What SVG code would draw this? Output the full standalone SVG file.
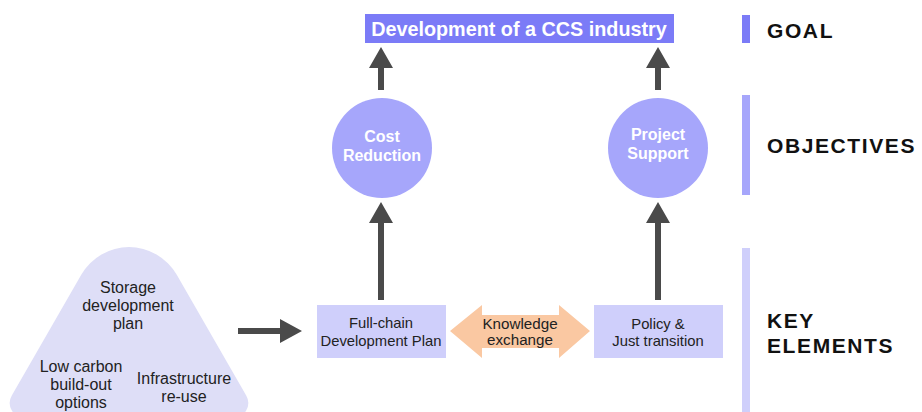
<svg xmlns="http://www.w3.org/2000/svg" width="922" height="412" viewBox="0 0 922 412">
<style>
text{font-family:"Liberation Sans",Arial,sans-serif;text-anchor:middle}
.w{fill:#ffffff;font-weight:bold;font-size:16px}
.n{fill:#222222;font-size:14.8px}
.t{fill:#222222;font-size:16px}
.h{fill:#111111;font-weight:bold;font-size:21px;text-anchor:start;letter-spacing:1.6px}
.arr{fill:#4a4a4a}
</style>
<rect width="922" height="412" fill="#ffffff"/>
<g id="goal">
<rect x="365" y="14" width="309" height="29" fill="#7b7bf7"/>
<text x="519" y="35.5" class="w" style="font-size:19.8px">Development of a CCS industry</text>
</g>
<g id="cost-reduction">
<circle cx="382" cy="148" r="50" fill="#a6a6fb"/>
<text x="382" y="142" class="w">Cost</text>
<text x="382" y="161" class="w">Reduction</text>
</g>
<g id="project-support">
<circle cx="658" cy="148" r="50" fill="#a6a6fb"/>
<text x="658" y="140" class="w">Project</text>
<text x="658" y="159" class="w">Support</text>
</g>
<g id="full-chain">
<rect x="317" y="305" width="129" height="53" fill="#cfcffb"/>
<text x="381" y="328" class="n">Full-chain</text>
<text x="381" y="346" class="n">Development Plan</text>
</g>
<g id="policy">
<rect x="594" y="305" width="129" height="53" fill="#cfcffb"/>
<text x="658" y="329" class="n">Policy &amp;</text>
<text x="658" y="346" class="n">Just transition</text>
</g>
<g id="knowledge-exchange">
<polygon points="450,331 482,305 482,315 559,315 559,305 590,331 559,358 559,348 482,348 482,358" fill="#fac8a2"/>
<text x="520" y="329" class="n" style="font-size:15.2px">Knowledge</text>
<text x="520" y="345" class="n" style="font-size:15.2px">exchange</text>
</g>
<g id="triangle">
<path d="M11.8,395.5 L81.4,274.5 A55,55 0 0 1 176.6,274.5 L246.2,395.5 A15,15 0 0 1 233.2,418 L24.8,418 A15,15 0 0 1 11.8,395.5 Z" fill="#dedef7"/>
<text x="128" y="293" class="t">Storage</text>
<text x="128" y="311" class="t">development</text>
<text x="128" y="329" class="t">plan</text>
<text x="81" y="372" class="t">Low carbon</text>
<text x="81" y="390" class="t">build-out</text>
<text x="81" y="408" class="t">options</text>
<text x="184" y="384" class="t">Infrastructure</text>
<text x="184" y="402" class="t">re-use</text>
</g>
<g id="connectors">
<polygon class="arr" points="378,90 378,68 369,68 381,47 393,68 384,68 384,90"/>
<polygon class="arr" points="655,90 655,68 646,68 658,47 670,68 661,68 661,90"/>
<polygon class="arr" points="378,300 378,223 369,223 381,202 393,223 384,223 384,300"/>
<polygon class="arr" points="655,300 655,223 646,223 658,202 670,223 661,223 661,300"/>
<polygon class="arr" points="238,328 280,328 280,319 302,331 280,343 280,334 238,334"/>
</g>
<g id="levels">
<rect x="742" y="15" width="8" height="28" fill="#7b7bf7"/>
<text x="767" y="38" class="h">GOAL</text>
<rect x="742" y="95" width="8" height="100" fill="#a6a6fb"/>
<text x="767" y="153" class="h">OBJECTIVES</text>
<rect x="742" y="248" width="8" height="164" fill="#cfcffb"/>
<text x="767" y="328" class="h">KEY</text>
<text x="767" y="353" class="h">ELEMENTS</text>
</g>
</svg>
